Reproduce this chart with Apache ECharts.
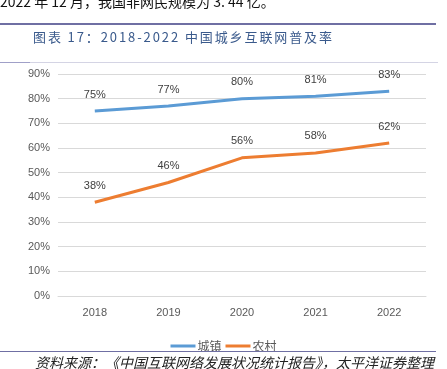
<!DOCTYPE html>
<html>
<head>
<meta charset="utf-8">
<script src="https://cdn.jsdelivr.net/npm/echarts@6/dist/echarts.min.js"></script>
<style>
  body { margin: 0; background: #fff; width: 447px; height: 369px; overflow: hidden; position: relative; }
  #chart { position: absolute; left: 0; top: 0; width: 447px; height: 369px; }
  .txt { position: absolute; white-space: nowrap; font-family: "Noto Sans CJK SC", sans-serif; }
  .rule { position: absolute; left: 0; }
</style>
</head>
<body>
<div id="chart"></div>
<div class="txt" style="left:0;top:-9px;font-size:14px;color:#111;">2022 年 12 月，我国非网民规模为 3. 44 亿。</div>
<div class="rule" style="top:23px;width:436px;height:2px;background:#6f6fa3;"></div>
<div class="txt" style="left:33px;top:27px;font-size:13px;letter-spacing:1.9px;color:#3a5a8c;">图表 17：2018-2022 中国城乡互联网普及率</div>
<div class="rule" style="top:62px;width:438px;height:1px;background:#d4d4e4;"></div>
<div class="rule" style="top:62px;width:30px;height:1px;background:#a0a0c8;"></div>
<div class="rule" style="top:351px;width:436px;height:1px;background:#6f6fa3;"></div>
<div class="txt" style="left:35px;top:352px;font-size:14px;font-style:italic;color:#222;">资料来源：《中国互联网络发展状况统计报告》，太平洋证券整理</div>
<script>
// 2018-2022 城乡互联网普及率 (%)
const years = ['2018', '2019', '2020', '2021', '2022']
const urban = [75, 77, 80, 81, 83]   // 城镇
const rural = [38, 46, 56, 58, 62]   // 农村

const labelCss = {
  show: true,
  position: 'top',
  distance: 11,
  formatter: '{c}%',
  color: '#404040',
  fontSize: 11,
  fontFamily: 'Liberation Sans'
}

let chart = echarts.init(document.getElementById('chart'))
chart.setOption({
  animation: false,
  color: ['#5b9bd5', '#ed7d31'],
  legend: {
    top: 335,
    left: 'center',
    icon: 'rect',
    itemWidth: 25,
    itemHeight: 3,
    itemGap: 4,
    textStyle: { color: '#595959', fontSize: 12, fontFamily: 'Noto Sans CJK SC', padding: [0, 0, 0, -3] },
    data: ['城镇', '农村']
  },
  grid: {
    left: 58,
    right: 21,
    top: 74,
    bottom: 73
  },
  xAxis: {
    type: 'category',
    boundaryGap: true,
    data: years,
    axisLine: { lineStyle: { color: '#d9d9d9' } },
    axisTick: { show: false },
    axisLabel: { color: '#595959', fontSize: 11, margin: 11, fontFamily: 'Liberation Sans' }
  },
  yAxis: {
    type: 'value',
    min: 0,
    max: 90,
    interval: 10,
    axisLine: { show: false },
    axisTick: { show: false },
    splitLine: { lineStyle: { color: '#d9d9d9' } },
    axisLabel: { formatter: '{value}%', color: '#595959', fontSize: 11, margin: 8, fontFamily: 'Liberation Sans' }
  },
  series: [
    {
      name: '城镇',
      type: 'line',
      data: urban,
      symbol: 'circle',
      symbolSize: 0,
      showSymbol: true,
      lineStyle: { width: 3 },
      label: labelCss
    },
    {
      name: '农村',
      type: 'line',
      data: rural,
      symbol: 'circle',
      symbolSize: 0,
      showSymbol: true,
      lineStyle: { width: 3 },
      label: labelCss
    }
  ]
})
</script>
</body>
</html>
